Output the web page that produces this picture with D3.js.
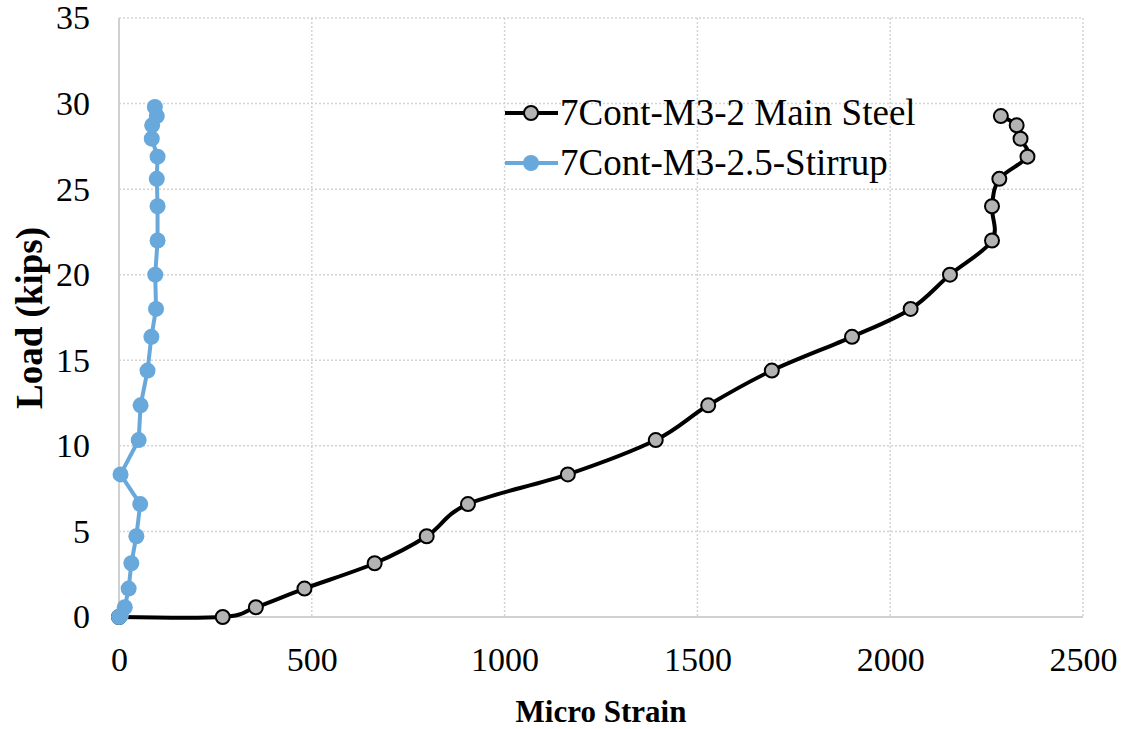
<!DOCTYPE html>
<html>
<head>
<meta charset="utf-8">
<script src="https://cdn.jsdelivr.net/npm/d3@7"></script>
<style>
  html, body { margin: 0; padding: 0; background: #fff; }
  svg { display: block; font-family: "Liberation Serif", "Times New Roman", serif; }
</style>
</head>
<body>
<svg id="chart" width="1126" height="729"></svg>
<script>
// ---- data ----
const mainLoad   = [0, 0, 0.57, 1.66, 3.14, 4.72, 6.6, 8.33, 10.34, 12.37, 14.4, 16.37, 18.0, 20.0, 22.0, 24.0, 25.6, 26.9, 27.95, 28.73, 29.27];
const mainStrain = [0, 269, 355, 481, 663, 798, 905, 1164, 1392, 1528, 1693, 1901, 2053, 2155, 2264, 2264, 2283, 2356, 2338, 2328, 2287];
const stirLoad   = [0, 0.1, 0.57, 1.66, 3.14, 4.72, 6.6, 8.33, 10.34, 12.37, 14.4, 16.37, 18.0, 20.0, 22.0, 24.0, 25.6, 26.9, 27.95, 28.73, 29.27, 29.8];
const stirStrain = [0, 5, 15, 25, 32, 45, 55, 4, 51, 56, 74, 84, 96, 94, 100, 100, 98, 100, 85, 86, 98, 93];
const xTicks = [0, 500, 1000, 1500, 2000, 2500];
const yTicks = [0, 5, 10, 15, 20, 25, 30, 35];
const seriesNames = ["7Cont-M3-2 Main Steel", "7Cont-M3-2.5-Stirrup"];

// ---- layout ----
const svg = d3.select("#chart");
const L = 119, R = 1083, T = 18, B = 617;
const x = d3.scaleLinear().domain([0, 2500]).range([L, R]);
const y = d3.scaleLinear().domain([0, 35]).range([B, T]);

// gridlines (dotted)
const grid = svg.append("g");
grid.selectAll(".gx").data(xTicks.filter(d => d > 0)).enter().append("line")
  .attr("x1", d => x(d)).attr("x2", d => x(d)).attr("y1", T).attr("y2", B)
  .attr("stroke", "#d4d4d4").attr("stroke-width", 1.5).attr("stroke-dasharray", "2,2");
grid.selectAll(".gy").data(yTicks.filter(d => d > 0)).enter().append("line")
  .attr("x1", L).attr("x2", R).attr("y1", d => y(d)).attr("y2", d => y(d))
  .attr("stroke", "#d4d4d4").attr("stroke-width", 1.5).attr("stroke-dasharray", "2,2");

// axes lines
svg.append("line").attr("x1", L).attr("x2", L).attr("y1", T).attr("y2", B)
  .attr("stroke", "#d0d0d0").attr("stroke-width", 2);
svg.append("line").attr("x1", L).attr("x2", R).attr("y1", B).attr("y2", B)
  .attr("stroke", "#d0d0d0").attr("stroke-width", 2);

// tick labels via d3 axes
const xAxis = d3.axisBottom(x).tickValues(xTicks).tickFormat(d3.format("d")).tickSize(0).tickPadding(30);
const gx = svg.append("g").attr("transform", `translate(0,${B})`).call(xAxis);
gx.select(".domain").remove();
gx.selectAll("text").attr("font-size", 34).attr("fill", "#000")
  .attr("font-family", "Liberation Serif, Times New Roman, serif");

const yAxis = d3.axisLeft(y).tickValues(yTicks).tickFormat(d3.format("d")).tickSize(0).tickPadding(29);
const gy = svg.append("g").attr("transform", `translate(${L},0)`).call(yAxis);
gy.select(".domain").remove();
gy.selectAll("text").attr("font-size", 34).attr("fill", "#000")
  .attr("font-family", "Liberation Serif, Times New Roman, serif");

// axis titles
svg.append("text").attr("x", 601).attr("y", 722).attr("text-anchor", "middle")
  .attr("font-size", 31).attr("font-weight", "bold").text("Micro Strain");
svg.append("text").attr("transform", "translate(42,318) rotate(-90)").attr("text-anchor", "middle")
  .attr("font-size", 37).attr("font-weight", "bold").text("Load (kips)");

// series
const mainData = mainStrain.map((s, i) => ({ s, l: mainLoad[i] }));
const stirData = stirStrain.map((s, i) => ({ s, l: stirLoad[i] }));

const smoothLine = d3.line().x(d => x(d.s)).y(d => y(d.l)).curve(d3.curveCatmullRom.alpha(0));
const straightLine = d3.line().x(d => x(d.s)).y(d => y(d.l));

const blue = "#68a8db";

svg.append("path").datum(mainData).attr("d", smoothLine)
  .attr("fill", "none").attr("stroke", "#000").attr("stroke-width", 4).attr("stroke-linejoin", "round");
svg.append("g").selectAll("circle").data(mainData).enter().append("circle")
  .attr("cx", d => x(d.s)).attr("cy", d => y(d.l)).attr("r", 7)
  .attr("fill", "#b3b3b3").attr("stroke", "#000").attr("stroke-width", 2);

svg.append("path").datum(stirData).attr("d", straightLine)
  .attr("fill", "none").attr("stroke", blue).attr("stroke-width", 4).attr("stroke-linejoin", "round");
svg.append("g").selectAll("circle").data(stirData).enter().append("circle")
  .attr("cx", d => x(d.s)).attr("cy", d => y(d.l)).attr("r", 8)
  .attr("fill", blue);

// legend
const lg = svg.append("g");
const legendY = [113, 163];
lg.append("line").attr("x1", 505).attr("x2", 558).attr("y1", legendY[0]).attr("y2", legendY[0])
  .attr("stroke", "#000").attr("stroke-width", 4);
lg.append("circle").attr("cx", 531).attr("cy", legendY[0]).attr("r", 7)
  .attr("fill", "#b3b3b3").attr("stroke", "#000").attr("stroke-width", 2);
lg.append("line").attr("x1", 505).attr("x2", 558).attr("y1", legendY[1]).attr("y2", legendY[1])
  .attr("stroke", blue).attr("stroke-width", 4);
lg.append("circle").attr("cx", 531).attr("cy", legendY[1]).attr("r", 8).attr("fill", blue);
lg.selectAll("text").data(seriesNames).enter().append("text")
  .attr("x", 560).attr("y", (d, i) => legendY[i] + 12)
  .attr("font-size", 37).attr("fill", "#000").text(d => d);
</script>
</body>
</html>
